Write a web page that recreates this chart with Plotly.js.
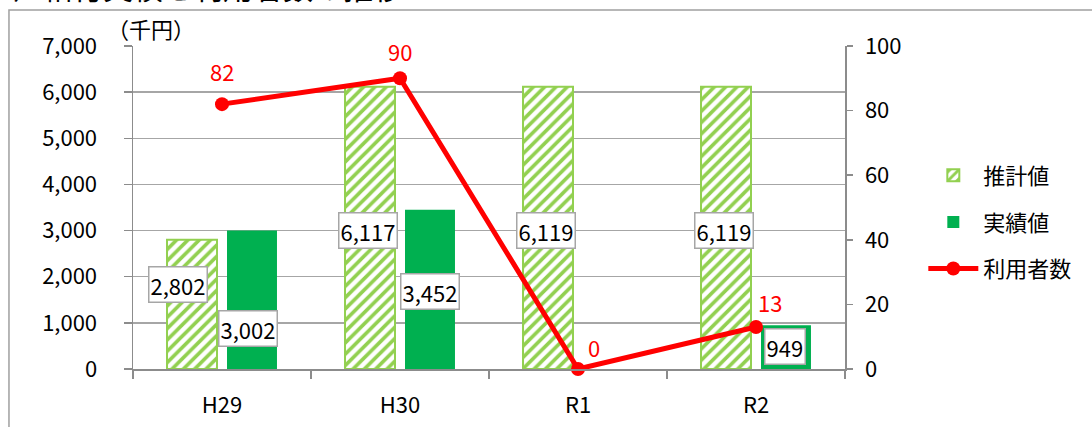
<!DOCTYPE html>
<html>
<head>
<meta charset="utf-8">
<script src="https://cdn.plot.ly/plotly-3.0.1.min.js"></script>
<style>html,body{margin:0;padding:0;background:#fff;}#chart{width:1092px;height:427px;}</style>
</head>
<body>
<div id="chart"></div>
<script>
// ---- data ----
const categories = ["H29", "H30", "R1", "R2"];
const estimateValues = [2802, 6117, 6119, 6119];      // 推計値 (千円)
const actualValues = [3002, 3452, null, 949];          // 実績値 (千円)
const userCounts = [82, 90, 0, 13];                    // 利用者数
const seriesNames = ["推計値", "実績値", "利用者数"];
const titleText = "（２）給付実績と利用者数の推移";
const unitText = "（千円）";

// ---- label placement (style only) ----
const estLabelY = [1831, 3000, 3000, 3000];
const estLabelShift = [-44, -32, -32, -32];
const actLabelY = [867, 1690, null, 488];
const actLabelShift = [26, 30, 0, 29];
const userLabelShift = [[0, 33], [0, 27], [16, 22], [14, 25]];

const FONT = "'Noto Sans CJK JP', 'Noto Sans', sans-serif";
const fmt = v => v.toLocaleString('en-US');

const traces = [
  {
    type: 'bar', name: seriesNames[0], x: categories, y: estimateValues,
    legendgroup: 'a',
    marker: {
      color: '#FFFFFF',
      line: {color: '#92D050', width: 2},
      pattern: {shape: '/', fgcolor: '#92D050', bgcolor: '#FFFFFF', size: 8, solidity: 0.45}
    },
    hoverinfo: 'skip'
  },
  {
    type: 'bar', name: seriesNames[1], x: categories, y: actualValues,
    legendgroup: 'b',
    marker: {color: '#00B050', line: {width: 0}},
    hoverinfo: 'skip'
  },
  {
    type: 'scatter', mode: 'lines+markers', name: seriesNames[2], x: categories, y: userCounts,
    yaxis: 'y2', legendgroup: 'c',
    line: {color: '#FF0000', width: 5},
    marker: {color: '#FF0000', size: 14},
    cliponaxis: false,
    hoverinfo: 'skip'
  }
];

const annotations = [];
categories.forEach((c, i) => {
  annotations.push({
    x: c, y: estLabelY[i], xref: 'x', yref: 'y', xshift: estLabelShift[i],
    text: fmt(estimateValues[i]), showarrow: false,
    font: {family: FONT, size: 22, color: '#000'},
    bgcolor: '#FFFFFF', bordercolor: '#A6A6A6', borderwidth: 1.5, borderpad: 1
  });
  if (actualValues[i] !== null) {
    annotations.push({
      x: c, y: actLabelY[i], xref: 'x', yref: 'y', xshift: actLabelShift[i],
      text: fmt(actualValues[i]), showarrow: false,
      font: {family: FONT, size: 22, color: '#000'},
      bgcolor: '#FFFFFF', bordercolor: '#A6A6A6', borderwidth: 1.5, borderpad: 1
    });
  }
  annotations.push({
    x: c, y: userCounts[i], xref: 'x', yref: 'y2',
    xshift: userLabelShift[i][0], yshift: userLabelShift[i][1],
    text: String(userCounts[i]), showarrow: false,
    font: {family: FONT, size: 22, color: '#FF0000'}
  });
});
annotations.push({
  xref: 'paper', yref: 'paper', x: 0.025, y: 1.0, xanchor: 'center', yanchor: 'bottom',
  text: unitText, showarrow: false, font: {family: FONT, size: 22, color: '#000'}
});
annotations.push({
  xref: 'paper', yref: 'paper', x: 0.382, y: 1.11, xanchor: 'right', yanchor: 'bottom',
  text: titleText, showarrow: false, font: {family: FONT, size: 30, color: '#000'}
});

const axisLine = '#8C8C8C';
const layout = {
  width: 1092, height: 427, autosize: false,
  margin: {l: 133, r: 247, t: 46, b: 58, pad: 0},
  paper_bgcolor: '#FFFFFF', plot_bgcolor: '#FFFFFF',
  font: {family: FONT, size: 22, color: '#000'},
  barmode: 'group', bargap: 0.326, bargroupgap: 0.167,
  showlegend: true,
  legend: {
    x: 1.11, y: 0.455, xanchor: 'left', yanchor: 'middle',
    font: {family: FONT, size: 22, color: '#000'},
    tracegroupgap: 15, itemwidth: 50, bgcolor: 'rgba(0,0,0,0)'
  },
  xaxis: {
    type: 'category', range: [-0.5, 3.5],
    showline: true, linecolor: axisLine, linewidth: 1.5,
    ticks: 'outside', tickson: 'boundaries', ticklen: 8, tickcolor: axisLine, tickwidth: 1.5,
    ticklabelstandoff: 16, showgrid: false, zeroline: false,
    tickfont: {family: FONT, size: 22}
  },
  yaxis: {
    range: [0, 7000], dtick: 1000, tickformat: ',d',
    showline: true, linecolor: axisLine, linewidth: 1.5,
    ticks: 'outside', ticklen: 8, tickcolor: axisLine, tickwidth: 1.5,
    showgrid: true, gridcolor: '#A6A6A6', gridwidth: 1.5, zeroline: false,
    ticklabelstandoff: 22, tickfont: {family: FONT, size: 22}
  },
  yaxis2: {
    range: [0, 100], dtick: 20, overlaying: 'y', side: 'right',
    showline: true, linecolor: axisLine, linewidth: 1.5,
    ticks: 'outside', ticklen: 6, tickcolor: axisLine, tickwidth: 1.5,
    showgrid: false, zeroline: false, ticklabelstandoff: 8,
    tickfont: {family: FONT, size: 22}
  },
  shapes: [{
    type: 'rect', xref: 'paper', yref: 'paper',
    x0: -0.1742, x1: 1.6, y0: -0.5, y1: 1.1115,
    line: {color: '#A0A0A0', width: 1.5}, fillcolor: 'rgba(0,0,0,0)', layer: 'below'
  }],
  annotations: annotations
};

Plotly.newPlot('chart', traces, layout, {displayModeBar: false, staticPlot: true});
</script>
</body>
</html>
